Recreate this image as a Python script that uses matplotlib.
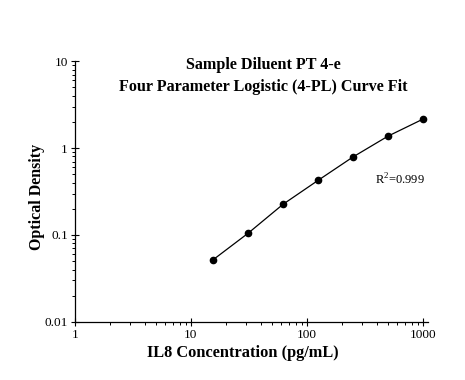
import numpy as np
import matplotlib
matplotlib.use("Agg")
import matplotlib.pyplot as plt
from matplotlib.ticker import LogLocator, FixedLocator, FixedFormatter, NullFormatter

plt.rcParams['font.family'] = ['Liberation Serif', 'DejaVu Serif']
plt.rcParams['mathtext.fontset'] = 'custom'
plt.rcParams['mathtext.rm'] = 'Liberation Serif'

# standard curve points
conc = [15.6, 31.25, 62.5, 125, 250, 500, 1000]
od = [0.052, 0.105, 0.226, 0.425, 0.79, 1.37, 2.15]

x_ticks = [1, 10, 100, 1000]
x_labels = ["1", "10", "100", "1000"]
y_ticks = [0.01, 0.1, 1, 10]
y_labels = ["0.01", "0.1", "1", "10"]

fig = plt.figure(figsize=(4.65, 3.8), dpi=100)
ax = fig.add_axes([0.161, 0.153, 0.759, 0.686])

ax.plot(conc, od, color="black", lw=0.9)
ax.plot(conc, od, "o", color="black", ms=4.5)

ax.set_xscale("log")
ax.set_yscale("log")
ax.set_xlim(1, 1104)
ax.set_ylim(0.01, 10)

ax.xaxis.set_major_locator(FixedLocator(x_ticks))
ax.xaxis.set_major_formatter(FixedFormatter(x_labels))
ax.yaxis.set_major_locator(FixedLocator(y_ticks))
ax.yaxis.set_major_formatter(FixedFormatter(y_labels))
ax.xaxis.set_minor_locator(LogLocator(base=10, subs=np.arange(2, 10)))
ax.yaxis.set_minor_locator(LogLocator(base=10, subs=np.arange(2, 10)))
ax.xaxis.set_minor_formatter(NullFormatter())
ax.yaxis.set_minor_formatter(NullFormatter())

for s in ["top", "right"]:
    ax.spines[s].set_visible(False)
for s in ["left", "bottom"]:
    ax.spines[s].set_linewidth(0.9)

ax.tick_params(which="major", direction="inout", length=6, width=0.8, labelsize=9.5, pad=2)
ax.tick_params(which="minor", direction="out", length=2.5, width=0.7)

ax.set_xlabel("IL8 Concentration (pg/mL)", fontsize=11.8, fontweight="bold")
ax.set_ylabel("Optical Density", fontsize=11.5, fontweight="bold")
ax.xaxis.set_label_coords(0.476, -0.088)
ax.yaxis.set_label_coords(-0.085, 0.479)

fig.text(0.566, 0.8, "Sample Diluent PT 4-e\nFour Parameter Logistic (4-PL) Curve Fit",
         ha="center", va="center", fontsize=11.6, fontweight="bold", linespacing=1.45)

ax.text(0.92, 0.544, r"R$^2$=0.999", transform=ax.transAxes, ha="center", va="center", fontsize=9)

fig.savefig("out.png", dpi=100)
